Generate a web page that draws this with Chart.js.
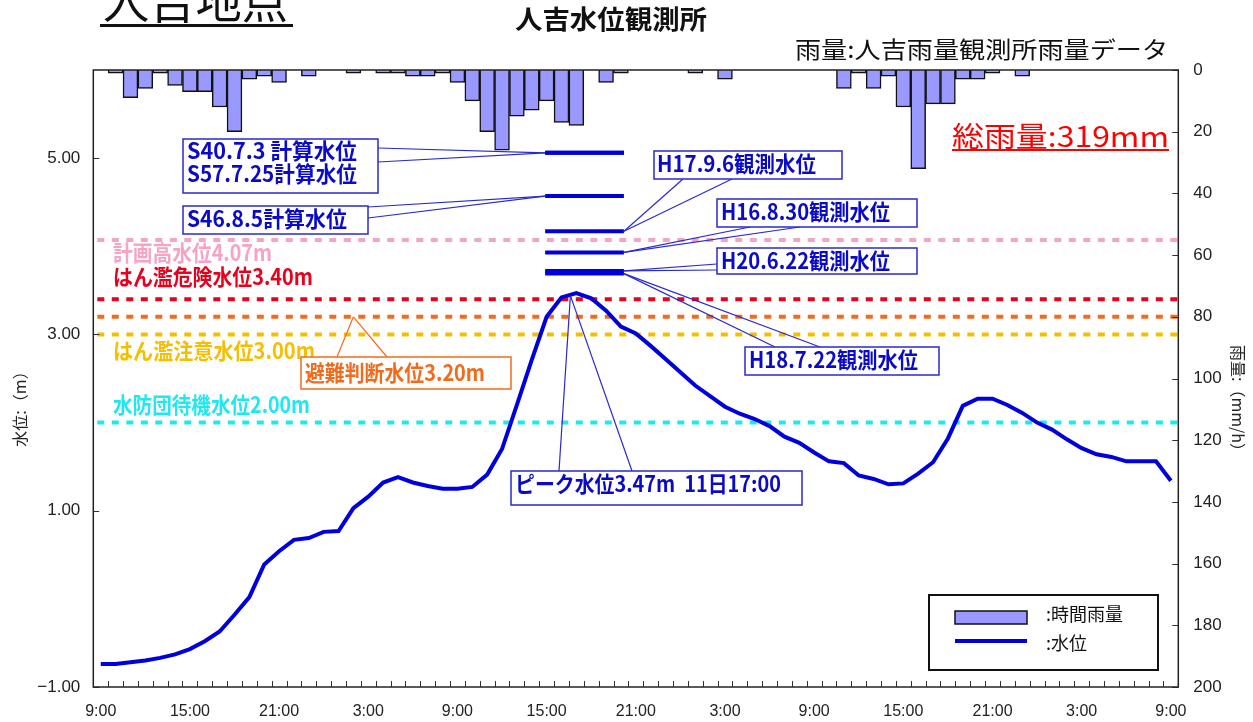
<!DOCTYPE html>
<html lang="ja">
<head>
  <meta charset="UTF-8" />
  <title>人吉水位観測所</title>
  <script src="https://cdn.jsdelivr.net/npm/chart.js"></script>
  <style>
    html, body { margin: 0; padding: 0; background: #fff; }
    #wrap { width: 1253px; height: 722px; position: relative; }
  </style>
</head>
<body>
<div id="wrap"><canvas id="chart"></canvas></div>
<script>
  // hourly categories, 10日 9:00 -> 13日 9:00
  const timeLabels = [
    '9:00','10:00','11:00','12:00','13:00','14:00','15:00','16:00','17:00','18:00','19:00','20:00','21:00','22:00','23:00',
    '0:00','1:00','2:00','3:00','4:00','5:00','6:00','7:00','8:00','9:00','10:00','11:00','12:00','13:00','14:00','15:00','16:00',
    '17:00','18:00','19:00','20:00','21:00','22:00','23:00',
    '0:00','1:00','2:00','3:00','4:00','5:00','6:00','7:00','8:00','9:00','10:00','11:00','12:00','13:00','14:00','15:00','16:00',
    '17:00','18:00','19:00','20:00','21:00','22:00','23:00',
    '0:00','1:00','2:00','3:00','4:00','5:00','6:00','7:00','8:00','9:00'
  ];

  // 時間雨量 (mm/h)
  const rainfall = [
    0, 1, 9, 6, 1, 5, 7, 7, 12, 20,
    3, 2, 4, 0, 2, 0, 0, 1, 0, 1,
    1, 2, 2, 1, 4, 10, 20, 26, 15, 13,
    10, 17, 18, 0, 4, 1, 0, 0, 0, 0,
    1, 0, 3, 0, 0, 0, 0, 0, 0, 0,
    6, 1, 6, 2, 12, 32, 11, 11, 3, 3,
    1, 0, 2, 0, 0, 0, 0, 0, 0, 0,
    0, 0, 0
  ];
  const totalRain = 319; // 総雨量 as printed on the chart

  // 水位 (m)
  const waterLevel = [
    -0.74, -0.74, -0.72, -0.70, -0.67, -0.63, -0.57, -0.48, -0.37, -0.18,
    0.02, 0.39, 0.54, 0.67, 0.69, 0.76, 0.77, 1.03, 1.16, 1.32,
    1.38, 1.32, 1.28, 1.25, 1.25, 1.27, 1.41, 1.70, 2.20, 2.71,
    3.20, 3.42, 3.47, 3.41, 3.27, 3.09, 3.01, 2.87, 2.72, 2.57,
    2.42, 2.30, 2.18, 2.10, 2.04, 1.96, 1.84, 1.77, 1.66, 1.56,
    1.54, 1.40, 1.36, 1.30, 1.31, 1.42, 1.55, 1.82, 2.19, 2.27,
    2.27, 2.20, 2.11, 2.00, 1.92, 1.81, 1.71, 1.64, 1.61, 1.56,
    1.56, 1.56, 1.34
  ];

  const levelTicks = [-1, 1, 3, 5];

  // 基準水位
  const thresholdNames = ['計画高水位4.07m', 'はん濫危険水位3.40m', '避難判断水位3.20m', 'はん濫注意水位3.00m', '水防団待機水位2.00m'];
  const thresholdValues = [4.07, 3.40, 3.20, 3.00, 2.00];
  const thresholdColors = ['#f6a3c6', '#e8001c', '#f26b1d', '#f5bf00', '#1ee8f0'];

  // 過去の水位
  const historicNames = ['S40.7.3 計算水位', 'S57.7.25計算水位', 'S46.8.5計算水位', 'H17.9.6観測水位', 'H16.8.30観測水位', 'H20.6.22観測水位', 'H18.7.22観測水位'];
  const historicValues = [5.06, 5.06, 4.57, 4.17, 3.93, 3.72, 3.69];
  const historicSpan = [29.9, 35.2]; // category index range of the short bars

  const BLUE = '#0000dd';
  const BOX_BLUE = '#2a2ad0';
  const TXT_BLUE = '#0a0ac8';
  const CALLOUT_FONT = 'bold 22px "Noto Sans CJK JP", sans-serif';

  const peakIndex = waterLevel.indexOf(Math.max(...waterLevel));

  // callout boxes: rect [x, y, w, h], text lines [str, x, y, width], tail base points, target (data)
  const callouts = [
    { rect: [183, 139, 195, 54], lines: [[historicNames[0], 187, 151, 170], [historicNames[1], 187, 174, 170]],
      tail: [[378, 148], [378, 162]], target: { i: historicSpan[0], v: historicValues[0] } },
    { rect: [183, 206, 185, 28], lines: [[historicNames[2], 187, 219, 160]],
      tail: [[368, 207], [368, 218]], target: { i: historicSpan[0], v: historicValues[2] } },
    { rect: [654, 151, 188, 28], lines: [[historicNames[3], 657, 164, 159]],
      tail: [[683, 179], [732, 179]], target: { i: historicSpan[1], v: historicValues[3] } },
    { rect: [717, 199, 200, 28], lines: [[historicNames[4], 721, 212, 169]],
      tail: [[750, 227], [800, 227]], target: { i: historicSpan[1], v: historicValues[4] } },
    { rect: [717, 248, 200, 26], lines: [[historicNames[5], 721, 261, 169]],
      tail: [[717, 264], [717, 270]], target: { i: historicSpan[1], v: historicValues[5] } },
    { rect: [745, 347, 194, 28], lines: [[historicNames[6], 749, 360, 169]],
      tail: [[775, 347], [820, 347]], target: { i: historicSpan[1], v: historicValues[6] } },
    { rect: [301, 357, 210, 32], lines: [[thresholdNames[2], 305, 373, 180]], color: '#f26b1d', textColor: '#f26b1d',
      tail: [[337, 357], [387, 357]], target: { i: 17, v: thresholdValues[2] } },
    { rect: [511, 471, 291, 34], lines: [['ピーク水位' + waterLevel[peakIndex].toFixed(2) + 'm  11日17:00', 515, 484, 266]],
      tail: [[559, 471], [632, 471]], target: { i: peakIndex - 0.4, v: waterLevel[peakIndex] - 0.03 } }
  ];

  // threshold labels drawn at the left of the plot
  const thresholdLabels = [
    [0, 113, 253, 159],
    [1, 113, 277, 200],
    [3, 113, 351, 202],
    [4, 113, 405, 197]
  ];

  function fitText(ctx, str, x, y, w, font, color) {
    ctx.save();
    ctx.font = font;
    ctx.fillStyle = color;
    ctx.textAlign = 'left';
    ctx.textBaseline = 'middle';
    const m = ctx.measureText(str).width;
    ctx.translate(x, y);
    ctx.scale(w / m, 1);
    ctx.fillText(str, 0, 0);
    ctx.restore();
  }

  function seg(ctx, x1, y1, x2, y2) {
    ctx.beginPath();
    ctx.moveTo(x1, y1);
    ctx.lineTo(x2, y2);
    ctx.stroke();
  }

  const overlay = {
    id: 'overlay',
    beforeDatasetsDraw(chart) {
      const { ctx, chartArea: a, scales } = chart;
      ctx.save();
      ctx.lineWidth = 4;
      ctx.setLineDash([7, 7.5]);
      thresholdValues.forEach((v, k) => {
        const py = scales.y.getPixelForValue(v);
        ctx.strokeStyle = thresholdColors[k];
        seg(ctx, a.left + 4, py, a.right, py);
      });
      ctx.restore();
    },
    afterDatasetsDraw(chart) {
      const { ctx, chartArea: a, scales } = chart;
      const x = scales.x, y = scales.y, y2 = scales.y2;

      // short bars for past water levels
      ctx.save();
      ctx.strokeStyle = BLUE;
      ctx.lineWidth = 4;
      historicValues.forEach(v => {
        const py = y.getPixelForValue(v);
        seg(ctx, x.getPixelForValue(historicSpan[0]), py, x.getPixelForValue(historicSpan[1]), py);
      });
      ctx.restore();

      // threshold labels
      thresholdLabels.forEach(([k, tx, ty, tw]) => {
        fitText(ctx, thresholdNames[k], tx, ty, tw, CALLOUT_FONT, thresholdColors[k]);
      });

      // callouts
      callouts.forEach(c => {
        const col = c.color || BOX_BLUE;
        const tx = x.getPixelForValue(c.target.i);
        const ty = y.getPixelForValue(c.target.v);
        ctx.save();
        ctx.strokeStyle = col;
        ctx.lineWidth = 1.2;
        c.tail.forEach(([bx, by]) => seg(ctx, bx, by, tx, ty));
        const [rx, ry, rw, rh] = c.rect;
        ctx.fillStyle = '#fff';
        ctx.fillRect(rx, ry, rw, rh);
        ctx.lineWidth = 1.5;
        ctx.strokeRect(rx, ry, rw, rh);
        ctx.restore();
        c.lines.forEach(([s, lx, ly, lw]) => fitText(ctx, s, lx, ly, lw, CALLOUT_FONT, c.textColor || TXT_BLUE));
      });

      // inward tick marks
      ctx.save();
      ctx.strokeStyle = '#333';
      ctx.lineWidth = 1;
      for (let i = 1; i < timeLabels.length; i++) {
        const px = Math.round(x.getPixelForValue(i - 0.5)) + 0.5;
        seg(ctx, px, a.bottom, px, a.bottom - 6);
      }
      levelTicks.forEach(v => {
        const py = Math.round(y.getPixelForValue(v)) + 0.5;
        seg(ctx, a.left, py, a.left + 6, py);
      });
      y2.ticks.forEach(t => {
        const py = Math.round(y2.getPixelForValue(t.value)) + 0.5;
        seg(ctx, a.right - 6, py, a.right, py);
      });
      // plot frame
      ctx.strokeStyle = '#222';
      ctx.lineWidth = 1.5;
      ctx.strokeRect(a.left, a.top, a.right - a.left, a.bottom - a.top);
      ctx.restore();

      // legend
      ctx.save();
      ctx.fillStyle = '#fff';
      ctx.fillRect(929, 595, 229, 75);
      ctx.strokeStyle = '#111';
      ctx.lineWidth = 2;
      ctx.strokeRect(929, 595, 229, 75);
      ctx.fillStyle = '#9999ff';
      ctx.fillRect(955, 611, 72, 13);
      ctx.lineWidth = 1.5;
      ctx.strokeRect(955, 611, 72, 13);
      ctx.strokeStyle = BLUE;
      ctx.lineWidth = 4;
      seg(ctx, 955, 641, 1027, 641);
      ctx.fillStyle = '#111';
      ctx.font = '18px "Noto Sans CJK JP", sans-serif';
      ctx.textBaseline = 'middle';
      ctx.fillText(':時間雨量', 1046, 614);
      ctx.fillText(':水位', 1046, 643);
      ctx.restore();
    },
    afterDraw(chart) {
      const { ctx } = chart;
      ctx.save();
      // page title, cut by the top edge
      ctx.fillStyle = '#111';
      ctx.font = '48px "Noto Sans CJK JP", sans-serif';
      ctx.textBaseline = 'alphabetic';
      const tw = ctx.measureText('人吉地点').width;
      ctx.save();
      ctx.translate(103, 18);
      ctx.scale(185 / tw, 1);
      ctx.fillText('人吉地点', 0, 0);
      ctx.restore();
      ctx.fillRect(100, 24, 193, 3);

      fitText(ctx, '人吉水位観測所', 515, 19, 192, 'bold 26px "Noto Sans CJK JP", sans-serif', '#111');
      fitText(ctx, '雨量:人吉雨量観測所雨量データ', 795, 49, 373, '23px "Noto Sans CJK JP", sans-serif', '#111');
      fitText(ctx, '総雨量:' + totalRain + 'mm', 952, 136, 217, '28px "Noto Sans CJK JP", sans-serif', '#ff0000');
      ctx.fillStyle = '#ff0000';
      ctx.fillRect(952, 149, 217, 2);

      // axis titles
      ctx.fillStyle = '#222';
      ctx.font = '16px "Noto Sans CJK JP", sans-serif';
      ctx.textAlign = 'center';
      ctx.textBaseline = 'middle';
      ctx.save();
      ctx.translate(20, 405);
      ctx.rotate(-Math.PI / 2);
      ctx.fillText('水位:（m）', 0, 0);
      ctx.restore();
      ctx.save();
      ctx.translate(1238, 402);
      ctx.rotate(Math.PI / 2);
      ctx.fillText('雨量:（mm/h）', 0, 0);
      ctx.restore();
      ctx.restore();
    }
  };

  const tickFont = { family: '"Liberation Sans", Arial, sans-serif', size: 17 };

  new Chart(document.getElementById('chart'), {
    type: 'bar',
    data: {
      labels: timeLabels,
      datasets: [
        {
          type: 'line',
          label: '水位',
          data: waterLevel,
          yAxisID: 'y',
          borderColor: BLUE,
          borderWidth: 4,
          pointRadius: 0,
          tension: 0,
          order: 0
        },
        {
          type: 'bar',
          label: '時間雨量',
          data: rainfall.map(v => (v > 0 ? v : null)),
          yAxisID: 'y2',
          backgroundColor: '#9999ff',
          borderColor: '#111',
          borderWidth: 1.5,
          barPercentage: 1,
          categoryPercentage: 1,
          order: 1
        }
      ]
    },
    options: {
      responsive: true,
      maintainAspectRatio: false,
      animation: false,
      layout: { padding: { top: 70, left: 0, right: 0, bottom: 0 } },
      plugins: { legend: { display: false }, tooltip: { enabled: false } },
      scales: {
        x: {
          type: 'category',
          offset: true,
          grid: { display: false, drawTicks: false },
          border: { display: false },
          ticks: {
            autoSkip: false,
            maxRotation: 0,
            minRotation: 0,
            padding: 15,
            color: '#222',
            font: { family: tickFont.family, size: 16 },
            callback: (v, i) => (i % 6 === 0 ? timeLabels[i] : '')
          },
          afterFit: s => { s.height = 35; }
        },
        y: {
          position: 'left',
          min: -1,
          max: 6,
          grid: { display: false, drawTicks: false },
          border: { display: false },
          afterBuildTicks: s => { s.ticks = levelTicks.map(v => ({ value: v })); },
          ticks: {
            padding: 13,
            color: '#222',
            font: tickFont,
            callback: v => (v < 0 ? '\u2212' + Math.abs(v).toFixed(2) : v.toFixed(2))
          },
          afterFit: s => { s.width = 93.3; }
        },
        y2: {
          position: 'right',
          min: 0,
          max: 200,
          reverse: true,
          grid: { display: false, drawTicks: false },
          border: { display: false },
          ticks: { stepSize: 20, padding: 15, color: '#222', font: tickFont },
          afterFit: s => { s.width = 74.7; }
        }
      }
    },
    plugins: [overlay]
  });
</script>
</body>
</html>
